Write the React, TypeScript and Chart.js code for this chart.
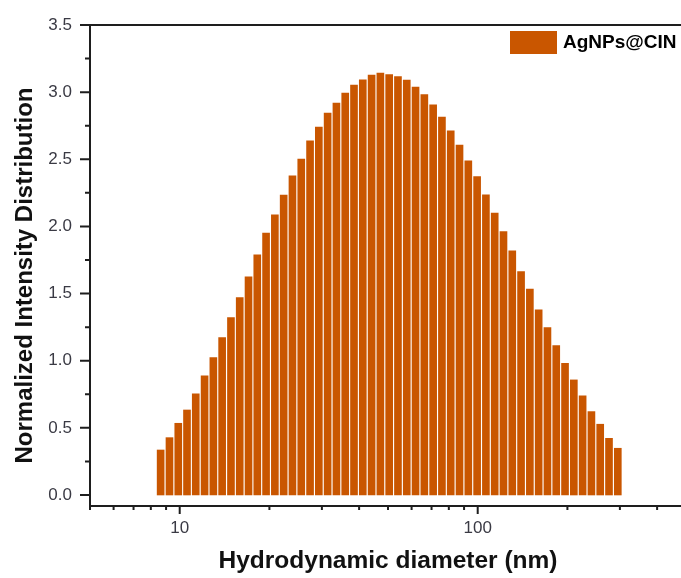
import React, { useEffect, useRef } from 'react';
import { Chart, registerables } from 'chart.js';

Chart.register(...registerables);

// Hydrodynamic diameter bins (nm)
const diameters = [
  8.63, 9.24, 9.89, 10.58, 11.32, 12.12, 12.97, 13.88, 14.86, 15.9,
  17.02, 18.21, 19.49, 20.86, 22.33, 23.9, 25.58, 27.38, 29.3, 31.36,
  33.57, 35.93, 38.45, 41.15, 44.05, 47.14, 50.46, 54.0, 57.8, 61.86,
  66.21, 70.87, 75.85, 81.18, 86.89, 93.0, 99.54, 106.54, 114.03, 122.04,
  130.62, 139.8, 149.63, 160.15, 171.41, 183.46, 196.36, 210.17, 224.94, 240.76,
  257.68, 275.8, 295.19,
];

// Normalized intensity for each bin
const intensity = [
  0.335, 0.427, 0.534, 0.633, 0.753, 0.887, 1.023, 1.172, 1.321, 1.47,
  1.624, 1.788, 1.95, 2.086, 2.233, 2.377, 2.501, 2.638, 2.74, 2.844,
  2.919, 2.993, 3.053, 3.092, 3.127, 3.142, 3.13, 3.115, 3.089, 3.038,
  2.981, 2.906, 2.814, 2.712, 2.606, 2.489, 2.372, 2.235, 2.099, 1.962,
  1.818, 1.664, 1.533, 1.379, 1.247, 1.113, 0.981, 0.857, 0.738, 0.621,
  0.527, 0.422, 0.348,
];

// Axis ticks
const yTickValues = [
  0, 0.25, 0.5, 0.75, 1.0, 1.25, 1.5, 1.75, 2.0, 2.25, 2.5, 2.75, 3.0, 3.25, 3.5,
];
const xTickValues = [
  5, 6, 7, 8, 9, 10, 20, 30, 40, 50, 60, 70, 80, 90, 100, 200, 300, 400, 500,
];

const seriesLabel = 'AgNPs@CIN';
const xTitle = 'Hydrodynamic diameter (nm)';
const yTitle = 'Normalized Intensity Distribution';
const xMin = 5;
const xMax = 500;
const yMin = -0.082;
const yMax = 3.5;
const yMajorStep = 0.5;

const BAR = '#C95600';
const AXIS = '#1e1e1e';
const TICK_TEXT = '#3a3a44';
const FONT = "'Liberation Sans', Arial, sans-serif";

const isMultiple = (v: number, step: number) =>
  Math.abs(v / step - Math.round(v / step)) < 1e-6;
const isDecade = (v: number) => {
  const l = Math.log10(v);
  return Math.abs(l - Math.round(l)) < 1e-6;
};

const framePlugin = {
  id: 'frameAndLegend',
  afterDraw(chart: any) {
    const { ctx, chartArea: a, scales } = chart;
    const xs = scales.x;
    const ys = scales.y;
    ctx.save();
    ctx.strokeStyle = AXIS;
    ctx.lineWidth = 2;
    ctx.beginPath();
    ctx.rect(a.left, a.top, a.right - a.left, a.bottom - a.top);
    ctx.stroke();

    ctx.beginPath();
    ys.ticks.forEach((t: any) => {
      const y = ys.getPixelForValue(t.value);
      const len = isMultiple(t.value, yMajorStep) ? 10 : 5;
      ctx.moveTo(a.left - len, y);
      ctx.lineTo(a.left, y);
    });
    xs.ticks.forEach((t: any) => {
      const x = xs.getPixelForValue(t.value);
      const len = isDecade(t.value) ? 8 : 4;
      ctx.moveTo(x, a.bottom);
      ctx.lineTo(x, a.bottom + len);
    });
    ctx.stroke();

    // y axis title
    ctx.save();
    ctx.translate(25, (a.top + a.bottom) / 2 + 10);
    ctx.rotate(-Math.PI / 2);
    ctx.fillStyle = '#111';
    ctx.font = `bold 24px ${FONT}`;
    ctx.textAlign = 'center';
    ctx.textBaseline = 'middle';
    ctx.fillText(yTitle, 0, 0);
    ctx.restore();

    // legend
    const ds = chart.data.datasets[0];
    const bx = a.right - 176;
    const by = a.top + 6;
    ctx.fillStyle = ds.backgroundColor;
    ctx.fillRect(bx, by, 47, 23);
    ctx.fillStyle = '#000';
    ctx.font = `bold 19px ${FONT}`;
    ctx.textBaseline = 'middle';
    ctx.textAlign = 'left';
    ctx.fillText(ds.label, bx + 53, by + 12);
    ctx.restore();
  },
};

export default function App() {
  const ref = useRef<HTMLCanvasElement | null>(null);

  useEffect(() => {
    if (!ref.current) return;
    const chart = new Chart(ref.current, {
      type: 'bar',
      data: {
        datasets: [
          {
            label: seriesLabel,
            data: diameters.map((d, i) => ({ x: d, y: intensity[i] })),
            backgroundColor: BAR,
            borderWidth: 0,
            barThickness: 7,
          },
        ],
      },
      options: {
        animation: false,
        responsive: false,
        maintainAspectRatio: false,
        layout: { padding: { top: 25, right: 14, bottom: 0, left: 0 } },
        plugins: {
          legend: { display: false },
          tooltip: { enabled: false },
        },
        scales: {
          x: {
            type: 'logarithmic',
            min: xMin,
            max: xMax,
            offset: false,
            grid: { display: false, drawTicks: true, tickLength: 8 },
            border: { display: false },
            afterBuildTicks: (s: any) => {
              s.ticks = xTickValues.map((v) => ({ value: v }));
            },
            ticks: {
              autoSkip: false,
              maxRotation: 0,
              padding: 4,
              color: TICK_TEXT,
              font: { family: FONT, size: 17 },
              callback: (v: any) => {
                const n = Number(v);
                return isDecade(n) ? String(Math.round(n)) : '';
              },
            },
            title: {
              display: true,
              text: xTitle,
              color: '#111',
              font: { family: FONT, size: 24.5, weight: 'bold' },
              padding: { top: 0, bottom: 2 },
            },
            afterFit: (s: any) => {
              s.height = 72;
            },
          },
          y: {
            type: 'linear',
            min: yMin,
            max: yMax,
            grid: { display: false, drawTicks: true, tickLength: 10 },
            border: { display: false },
            afterBuildTicks: (s: any) => {
              s.ticks = yTickValues.map((v) => ({ value: v }));
            },
            ticks: {
              autoSkip: false,
              padding: 8,
              color: TICK_TEXT,
              font: { family: FONT, size: 17 },
              callback: (v: any) => {
                const n = Number(v);
                return isMultiple(n, yMajorStep) ? n.toFixed(1) : '';
              },
            },
            title: { display: false },
            afterFit: (s: any) => {
              s.width = 90;
            },
          },
        },
      },
      plugins: [framePlugin],
    } as any);
    return () => chart.destroy();
  }, []);

  return (
    <div
      style={{
        position: 'fixed',
        left: 0,
        top: 0,
        width: 681,
        height: 578,
        overflow: 'hidden',
        background: '#fff',
      }}
    >
      <canvas ref={ref} width={700} height={578} style={{ width: 700, height: 578, display: 'block' }} />
    </div>
  );
}
